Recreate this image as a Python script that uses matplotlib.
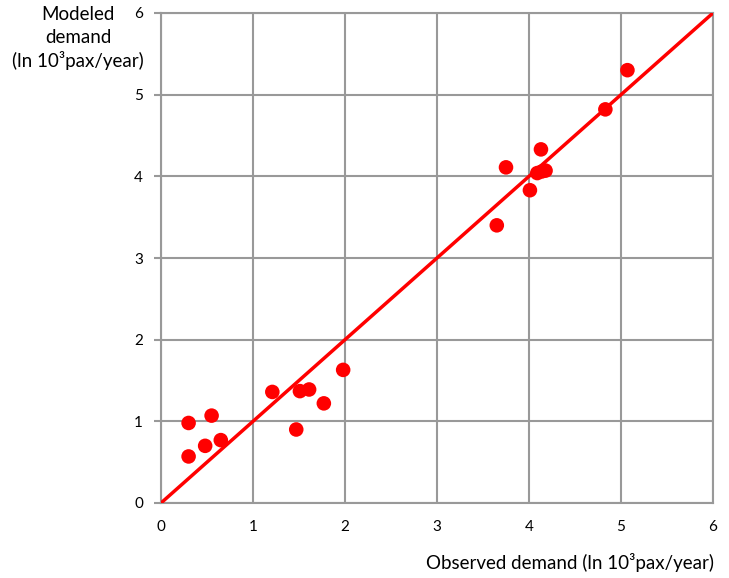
import matplotlib.pyplot as plt
import numpy as np

plt.rcParams['font.family'] = ['Lato', 'DejaVu Sans']

# observed vs modeled demand, ln(10^3 pax/year)
observed = [0.30, 0.30, 0.48, 0.55, 0.65, 1.21, 1.47, 1.51, 1.61, 1.77, 1.98,
            3.65, 3.75, 4.01, 4.13, 4.09, 4.14, 4.18, 4.83, 5.07]
modeled = [0.57, 0.98, 0.70, 1.07, 0.77, 1.36, 0.90, 1.37, 1.39, 1.22, 1.63,
           3.40, 4.11, 3.83, 4.33, 4.04, 4.06, 4.07, 4.82, 5.30]
ticks = [0, 1, 2, 3, 4, 5, 6]
ylabel_lines = ['Modeled', 'demand', '(ln 10³pax/year)']

fig = plt.figure(figsize=(7.29, 5.78), dpi=100)
ax = fig.add_axes([161/729, 1 - 503/578, 552/729, 490/578])

grid_c = '#999999'
ax.set_xlim(0, 6)
ax.set_ylim(0, 6)
ax.set_xticks(ticks)
ax.set_yticks(ticks)
ax.set_xticklabels([str(t) for t in ticks], fontsize=11)
ax.set_yticklabels([str(t) for t in ticks], fontsize=11)
ax.grid(True, color=grid_c, linewidth=1.5)
ax.set_axisbelow(True)
for s in ax.spines.values():
    s.set_color(grid_c)
    s.set_linewidth(1.5)
ax.tick_params(axis='x', length=0, pad=12)
ax.tick_params(axis='y', length=5, width=1.5, color=grid_c, pad=8)

# 1:1 line
ax.plot([0, 6], [0, 6], color='#ff0000', linewidth=2.5, zorder=3)
ax.scatter(observed, modeled, s=110, color='#ff0000', edgecolors='none', zorder=4,
           clip_on=False)

# y label as three stacked lines at the top left
for i, line in enumerate(ylabel_lines):
    fig.text(78/729, 1 - (15 + 22.5 * i)/578, line, ha='center', va='center',
             fontsize=13.5)
fig.text(714/729, 1 - 563/578, 'Observed demand (ln 10³pax/year)', ha='right', va='center',
         fontsize=13.5)

fig.savefig('out.png', dpi=100)
